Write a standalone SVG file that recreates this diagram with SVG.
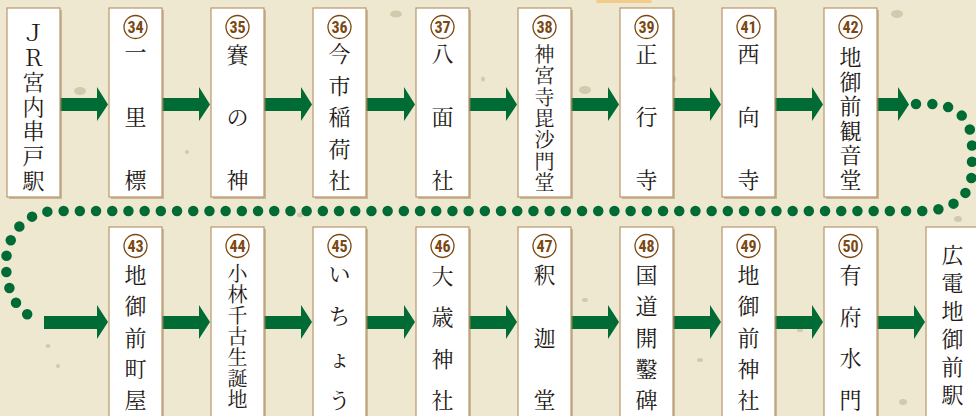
<svg xmlns="http://www.w3.org/2000/svg" width="976" height="416" viewBox="0 0 976 416">
<style>
.bg{fill:#efe8d1}
.sh{fill:#9c7f5c;opacity:.45}
.box{fill:#ffffff;stroke:#b9966c;stroke-width:1.2}
.num circle{fill:#ffffff;stroke:#7a4812;stroke-width:1.3}
.num text{font-family:"Liberation Sans Narrow","Roboto Condensed","Liberation Sans",sans-serif;font-weight:bold;font-size:16px;fill:#7a4812;text-anchor:middle;dominant-baseline:central}
.lbl{font-family:"Noto Serif CJK JP","Noto Sans CJK JP",serif;font-size:22px;fill:#231815;text-anchor:middle;dominant-baseline:central}
.sm{font-size:20px}
.arr{fill:#006b35}
.dots{fill:none;stroke:#006b35;stroke-width:10.5;stroke-linecap:round;stroke-dasharray:0 16.2}
.spk{fill:#8a8655;opacity:.3}
</style>
<rect class="bg" x="0" y="0" width="976" height="416"/>
<g id="texture">
<rect x="596" y="0" width="56" height="3" rx="1.5" fill="#f3c06e" opacity=".7"/>
<ellipse class="spk" cx="80" cy="91" rx="6" ry="4"/>
<ellipse class="spk" cx="396" cy="14" rx="6" ry="3.5"/>
<ellipse class="spk" cx="585" cy="90" rx="6" ry="4"/>
<ellipse class="spk" cx="897" cy="14" rx="6" ry="4"/>
<ellipse class="spk" cx="483" cy="79" rx="2" ry="2.5"/>
<ellipse class="spk" cx="674" cy="79" rx="2" ry="3"/>
<ellipse class="spk" cx="958" cy="219" rx="4" ry="3"/>
<ellipse class="spk" cx="300" cy="215" rx="3" ry="2.5"/>
<ellipse class="spk" cx="585" cy="300" rx="3" ry="2"/>
<ellipse class="spk" cx="800" cy="330" rx="3" ry="2"/>
<ellipse class="spk" cx="700" cy="360" rx="3" ry="2"/>
<ellipse class="spk" cx="48" cy="346" rx="2.5" ry="2"/>
<ellipse class="spk" cx="58" cy="366" rx="2" ry="2"/>
<ellipse class="spk" cx="903" cy="402" rx="4" ry="3"/>
<ellipse class="spk" cx="187" cy="152" rx="2" ry="2"/>
</g>
<g id="connectors">
<path class="arr" d="M60,98H97V87L108,104.5L97,121V111H60Z"/>
<path class="arr" d="M162,98H199V87L210,104.5L199,121V111H162Z"/>
<path class="arr" d="M264,98H301V87L312,104.5L301,121V111H264Z"/>
<path class="arr" d="M366,98H404V87L415,104.5L404,121V111H366Z"/>
<path class="arr" d="M468,98H506V87L517,104.5L506,121V111H468Z"/>
<path class="arr" d="M570,98H608V87L619,104.5L608,121V111H570Z"/>
<path class="arr" d="M673,98H710V87L721,104.5L710,121V111H673Z"/>
<path class="arr" d="M775,98H812V87L823,104.5L812,121V111H775Z"/>
<path class="arr" d="M877,98H898V87L909,104.5L898,121V111H877Z"/>
<path class="dots" d="M916,104 L928,104 C958,104 972,120 972,145 L972,170 C972,198 950,211 922,211 L56,211 C24,211 6,236 6,264 C6,293 20,318 40,318"/>
<path class="arr" d="M44,316H97V305L108,322L97,339V329H44Z"/>
<path class="arr" d="M162,316H199V305L210,322L199,339V329H162Z"/>
<path class="arr" d="M264,316H301V305L312,322L301,339V329H264Z"/>
<path class="arr" d="M366,316H404V305L415,322L404,339V329H366Z"/>
<path class="arr" d="M468,316H506V305L517,322L506,339V329H468Z"/>
<path class="arr" d="M570,316H608V305L619,322L608,339V329H570Z"/>
<path class="arr" d="M673,316H710V305L721,322L710,339V329H673Z"/>
<path class="arr" d="M775,316H812V305L823,322L812,339V329H775Z"/>
<path class="arr" d="M877,316H914V305L925,322L914,339V329H877Z"/>
</g>
<g id="n-jr">
<rect class="sh" x="9" y="10" width="53" height="189"/>
<rect class="box" x="7" y="8" width="53" height="189"/>
<text class="lbl"><tspan x="33.5" y="31">Ｊ</tspan><tspan x="33.5" y="55.6">Ｒ</tspan><tspan x="33.5" y="80.2">宮</tspan><tspan x="33.5" y="104.8">内</tspan><tspan x="33.5" y="129.4">串</tspan><tspan x="33.5" y="154">戸</tspan><tspan x="33.5" y="178.6">駅</tspan></text>
</g>
<g id="n34">
<rect class="sh" x="111" y="10" width="53" height="189"/>
<rect class="box" x="109" y="8" width="53" height="189"/>
<g class="num"><circle cx="135.5" cy="27" r="11.5"/><text x="135.5" y="27.5">34</text></g>
<text class="lbl"><tspan x="135.5" y="50">一</tspan><tspan x="135.5" y="115">里</tspan><tspan x="135.5" y="178">標</tspan></text>
</g>
<g id="n35">
<rect class="sh" x="213" y="10" width="53" height="189"/>
<rect class="box" x="211" y="8" width="53" height="189"/>
<g class="num"><circle cx="237.5" cy="27" r="11.5"/><text x="237.5" y="27.5">35</text></g>
<text class="lbl"><tspan x="237.5" y="53">賽</tspan><tspan x="237.5" y="115">の</tspan><tspan x="237.5" y="178">神</tspan></text>
</g>
<g id="n36">
<rect class="sh" x="315" y="10" width="53" height="189"/>
<rect class="box" x="313" y="8" width="53" height="189"/>
<g class="num"><circle cx="339.5" cy="27" r="11.5"/><text x="339.5" y="27.5">36</text></g>
<text class="lbl"><tspan x="339.5" y="52">今</tspan><tspan x="339.5" y="83.5">市</tspan><tspan x="339.5" y="115">稲</tspan><tspan x="339.5" y="146.5">荷</tspan><tspan x="339.5" y="178">社</tspan></text>
</g>
<g id="n37">
<rect class="sh" x="418" y="10" width="53" height="189"/>
<rect class="box" x="416" y="8" width="53" height="189"/>
<g class="num"><circle cx="442.5" cy="27" r="11.5"/><text x="442.5" y="27.5">37</text></g>
<text class="lbl"><tspan x="442.5" y="52">八</tspan><tspan x="442.5" y="115">面</tspan><tspan x="442.5" y="178">社</tspan></text>
</g>
<g id="n38">
<rect class="sh" x="520" y="10" width="53" height="189"/>
<rect class="box" x="518" y="8" width="53" height="189"/>
<g class="num"><circle cx="544.5" cy="27" r="11.5"/><text x="544.5" y="27.5">38</text></g>
<text class="lbl sm"><tspan x="544.5" y="53">神</tspan><tspan x="544.5" y="74.3">宮</tspan><tspan x="544.5" y="95.6">寺</tspan><tspan x="544.5" y="116.9">毘</tspan><tspan x="544.5" y="138.2">沙</tspan><tspan x="544.5" y="159.5">門</tspan><tspan x="544.5" y="180.8">堂</tspan></text>
</g>
<g id="n39">
<rect class="sh" x="622" y="10" width="53" height="189"/>
<rect class="box" x="620" y="8" width="53" height="189"/>
<g class="num"><circle cx="646.5" cy="27" r="11.5"/><text x="646.5" y="27.5">39</text></g>
<text class="lbl"><tspan x="646.5" y="52">正</tspan><tspan x="646.5" y="115">行</tspan><tspan x="646.5" y="178">寺</tspan></text>
</g>
<g id="n41">
<rect class="sh" x="724" y="10" width="53" height="189"/>
<rect class="box" x="722" y="8" width="53" height="189"/>
<g class="num"><circle cx="748.5" cy="27" r="11.5"/><text x="748.5" y="27.5">41</text></g>
<text class="lbl"><tspan x="748.5" y="52">西</tspan><tspan x="748.5" y="115">向</tspan><tspan x="748.5" y="178">寺</tspan></text>
</g>
<g id="n42">
<rect class="sh" x="826" y="10" width="53" height="189"/>
<rect class="box" x="824" y="8" width="53" height="189"/>
<g class="num"><circle cx="850.5" cy="27" r="11.5"/><text x="850.5" y="27.5">42</text></g>
<text class="lbl"><tspan x="850.5" y="55">地</tspan><tspan x="850.5" y="79.6">御</tspan><tspan x="850.5" y="104.2">前</tspan><tspan x="850.5" y="128.8">観</tspan><tspan x="850.5" y="153.4">音</tspan><tspan x="850.5" y="178">堂</tspan></text>
</g>
<g id="n43">
<rect class="sh" x="111" y="229" width="53" height="200"/>
<rect class="box" x="109" y="227" width="53" height="200"/>
<g class="num"><circle cx="135.5" cy="246" r="11.5"/><text x="135.5" y="246.5">43</text></g>
<text class="lbl"><tspan x="135.5" y="273">地</tspan><tspan x="135.5" y="304.25">御</tspan><tspan x="135.5" y="335.5">前</tspan><tspan x="135.5" y="366.75">町</tspan><tspan x="135.5" y="398">屋</tspan></text>
</g>
<g id="n44">
<rect class="sh" x="213" y="229" width="53" height="200"/>
<rect class="box" x="211" y="227" width="53" height="200"/>
<g class="num"><circle cx="237.5" cy="246" r="11.5"/><text x="237.5" y="246.5">44</text></g>
<text class="lbl sm"><tspan x="237.5" y="272">小</tspan><tspan x="237.5" y="293">林</tspan><tspan x="237.5" y="314">千</tspan><tspan x="237.5" y="335">古</tspan><tspan x="237.5" y="356">生</tspan><tspan x="237.5" y="377">誕</tspan><tspan x="237.5" y="398">地</tspan></text>
</g>
<g id="n45">
<rect class="sh" x="315" y="229" width="53" height="200"/>
<rect class="box" x="313" y="227" width="53" height="200"/>
<g class="num"><circle cx="339.5" cy="246" r="11.5"/><text x="339.5" y="246.5">45</text></g>
<text class="lbl"><tspan x="339.5" y="272">い</tspan><tspan x="339.5" y="314">ち</tspan><tspan x="339.5" y="356">ょ</tspan><tspan x="339.5" y="398">う</tspan></text>
</g>
<g id="n46">
<rect class="sh" x="418" y="229" width="53" height="200"/>
<rect class="box" x="416" y="227" width="53" height="200"/>
<g class="num"><circle cx="442.5" cy="246" r="11.5"/><text x="442.5" y="246.5">46</text></g>
<text class="lbl"><tspan x="442.5" y="274">大</tspan><tspan x="442.5" y="315.3">歳</tspan><tspan x="442.5" y="356.7">神</tspan><tspan x="442.5" y="398">社</tspan></text>
</g>
<g id="n47">
<rect class="sh" x="520" y="229" width="53" height="200"/>
<rect class="box" x="518" y="227" width="53" height="200"/>
<g class="num"><circle cx="544.5" cy="246" r="11.5"/><text x="544.5" y="246.5">47</text></g>
<text class="lbl"><tspan x="544.5" y="273">釈</tspan><tspan x="544.5" y="335.5">迦</tspan><tspan x="544.5" y="398">堂</tspan></text>
</g>
<g id="n48">
<rect class="sh" x="622" y="229" width="53" height="200"/>
<rect class="box" x="620" y="227" width="53" height="200"/>
<g class="num"><circle cx="646.5" cy="246" r="11.5"/><text x="646.5" y="246.5">48</text></g>
<text class="lbl"><tspan x="646.5" y="273">国</tspan><tspan x="646.5" y="304.25">道</tspan><tspan x="646.5" y="335.5">開</tspan><tspan x="646.5" y="366.75">鑿</tspan><tspan x="646.5" y="398">碑</tspan></text>
</g>
<g id="n49">
<rect class="sh" x="724" y="229" width="53" height="200"/>
<rect class="box" x="722" y="227" width="53" height="200"/>
<g class="num"><circle cx="748.5" cy="246" r="11.5"/><text x="748.5" y="246.5">49</text></g>
<text class="lbl"><tspan x="748.5" y="273">地</tspan><tspan x="748.5" y="304.25">御</tspan><tspan x="748.5" y="335.5">前</tspan><tspan x="748.5" y="366.75">神</tspan><tspan x="748.5" y="398">社</tspan></text>
</g>
<g id="n50">
<rect class="sh" x="826" y="229" width="53" height="200"/>
<rect class="box" x="824" y="227" width="53" height="200"/>
<g class="num"><circle cx="850.5" cy="246" r="11.5"/><text x="850.5" y="246.5">50</text></g>
<text class="lbl"><tspan x="850.5" y="273">有</tspan><tspan x="850.5" y="314.7">府</tspan><tspan x="850.5" y="356.3">水</tspan><tspan x="850.5" y="398">門</tspan></text>
</g>
<g id="n-hiroden">
<rect class="sh" x="928" y="229" width="53" height="200"/>
<rect class="box" x="926" y="227" width="53" height="200"/>
<text class="lbl"><tspan x="952.5" y="253">広</tspan><tspan x="952.5" y="281">電</tspan><tspan x="952.5" y="309">地</tspan><tspan x="952.5" y="337">御</tspan><tspan x="952.5" y="365">前</tspan><tspan x="952.5" y="393">駅</tspan></text>
</g>
</svg>
